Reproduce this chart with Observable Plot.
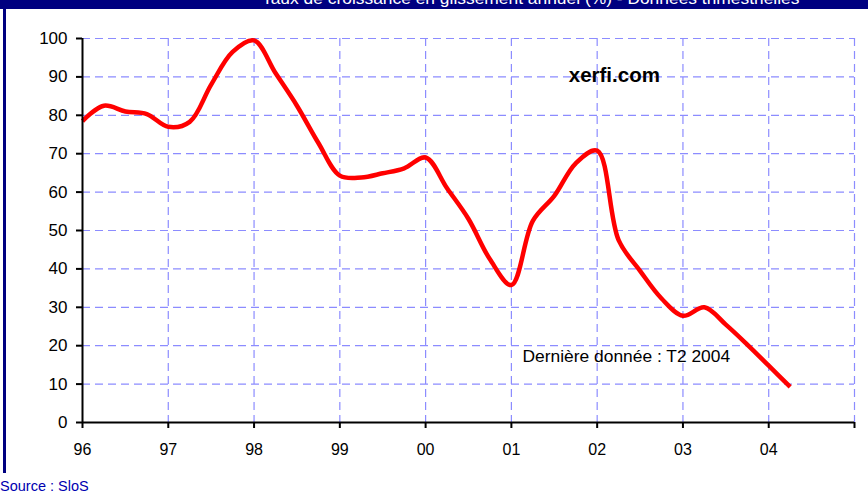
<!DOCTYPE html>
<html>
<head>
<meta charset="utf-8">
<script src="https://cdn.jsdelivr.net/npm/d3@7"></script>
<script src="https://cdn.jsdelivr.net/npm/@observablehq/plot@0.6"></script>
<style>
  html, body { margin: 0; padding: 0; background: #fff; }
  #wrap { position: relative; width: 868px; height: 495px; overflow: hidden; background: #fff; font-family: Arial, "Liberation Sans", sans-serif; }
  #titlebar { position: absolute; left: 0; top: 0; width: 868px; height: 9px; background: #000080; overflow: hidden; }
  #titlebar span { position: absolute; left: 262px; top: -13px; color: #fff; font-size: 17.4px; line-height: 23px; white-space: nowrap; }
  #leftborder { position: absolute; left: 3px; top: 0; width: 3px; height: 473px; background: #000080; }
  #chart { position: absolute; left: 0; top: 0; }
  #source { position: absolute; left: 0; top: 478px; color: #0000b0; font-size: 14.5px; white-space: nowrap; }
</style>
</head>
<body>
<div id="wrap">
  <div id="chart"></div>
  <div id="titlebar"><span id="title"></span></div>
  <div id="leftborder"></div>
  <div id="source"></div>
</div>
<script>
const title = "Taux de croissance en glissement annuel (%) - Données trimestrielles";
const source = "Source : SloS";
const yearLabels = ["96", "97", "98", "99", "00", "01", "02", "03", "04", ""];
const yTicks = [0, 10, 20, 30, 40, 50, 60, 70, 80, 90, 100];
// quarterly values from T1 1996 to T2 2004
const values = [
  78.5, 82.5, 81.0, 80.3,
  77.0, 78.3, 88.0, 96.5,
  99.5, 91.0, 82.5, 72.8,
  64.3, 63.8, 64.9, 66.2,
  69.0, 61.0, 53.0, 42.5,
  35.8, 52.5, 59.0, 67.5,
  70.8, 47.5, 39.5, 32.3,
  27.8, 30.0, 25.5, 20.3,
  14.8, 9.3
];
const annotations = [
  { text: "xerfi.com", x: 6.20, y: 90.4, bold: true },
  { text: "Dernière donnée : T2 2004", x: 5.13, y: 17.2, bold: false }
];

document.getElementById("title").textContent = title;
document.getElementById("source").textContent = source;

const data = values.map((v, i) => ({ t: i / 4, v }));
const yearIdx = yearLabels.map((_, i) => i);
const gridStyle = { stroke: "#8c8cff", strokeOpacity: 1, strokeWidth: 1.2, strokeDasharray: "8,5" };

const plot = Plot.plot({
  width: 868,
  height: 470,
  marginTop: 38,
  marginBottom: 48,
  marginLeft: 82,
  marginRight: 14,
  style: { fontFamily: "Arial, 'Liberation Sans', sans-serif", background: "transparent", overflow: "visible" },
  x: { domain: [0, 9], axis: null },
  y: { domain: [0, 100], axis: null },
  marks: [
    Plot.gridY(yTicks.filter(d => d > 0), gridStyle),
    Plot.gridX(yearIdx.filter(d => d > 0), gridStyle),
    Plot.line(data, { x: "t", y: "v", curve: "catmull-rom", stroke: "#ff0000", strokeWidth: 4.5, strokeLinejoin: "round", strokeLinecap: "butt" }),
    Plot.axisY(yTicks, { tickSize: 6, tickPadding: 9, stroke: "#000", strokeWidth: 2, fontSize: 17, fill: "#000", label: null }),
    Plot.axisX(yearIdx, { tickSize: 6, tickPadding: 15, stroke: "#000", strokeWidth: 2, fontSize: 16, fill: "#000", tickFormat: i => yearLabels[i], label: null }),
    Plot.ruleX([0], { stroke: "#000", strokeWidth: 2 }),
    Plot.ruleY([0], { stroke: "#000", strokeWidth: 2 }),
    Plot.text(annotations.filter(a => a.bold), { x: "x", y: "y", text: "text", fontWeight: "bold", fontSize: 20.5, fill: "#000", textAnchor: "middle" }),
    Plot.text(annotations.filter(a => !a.bold), { x: "x", y: "y", text: "text", fontSize: 17.4, fill: "#000", textAnchor: "start" })
  ]
});
document.getElementById("chart").appendChild(plot);
</script>
</body>
</html>
